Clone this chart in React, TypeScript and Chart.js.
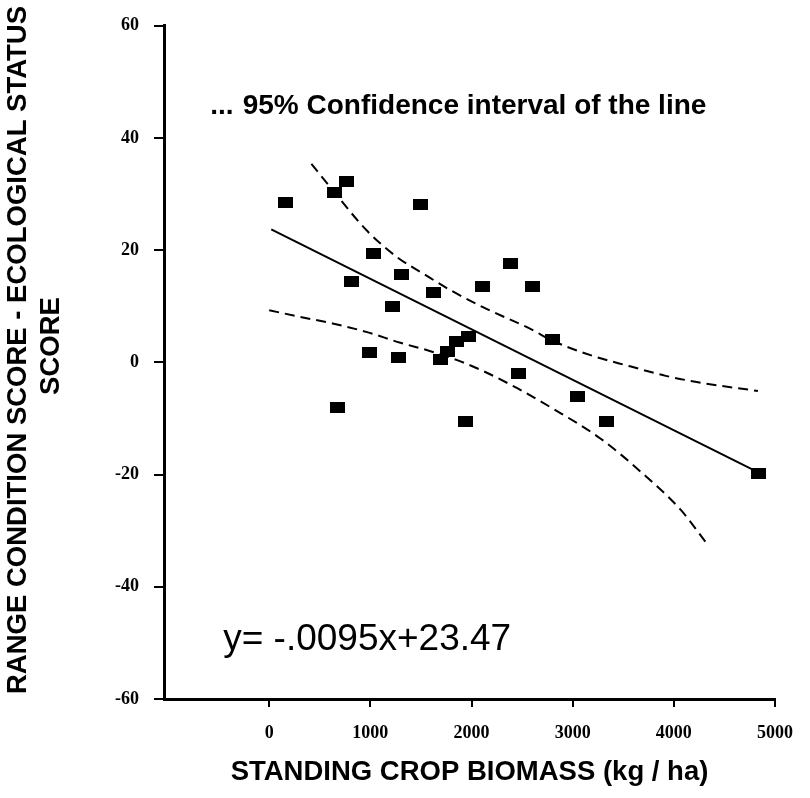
import React, { useEffect, useRef } from 'react';
import { Chart, registerables } from 'chart.js';

Chart.register(...registerables);

// ---- data ----
const biomass = [158, 644, 769, 1495, 1027, 1304, 809, 1627, 1215, 2386, 2106, 2601, 1967, 1851, 1759, 1693, 993, 1280, 680, 1941, 2468, 2799, 3052, 3334, 4839];
const scores = [28.5, 30.3, 32.3, 28.1, 19.5, 15.7, 14.4, 12.5, 10.0, 17.6, 13.6, 13.6, 4.7, 3.7, 2.0, 0.5, 1.8, 0.8, -8.0, -10.5, -1.9, 4.1, -6.0, -10.6, -19.8];

const fitX = [20, 4800];
const fitY = [23.7, -19.3];

const upperX = [417, 646, 965, 1269, 1525, 1799, 2118, 2612, 2773, 3191, 3567, 3920, 4226, 4831];
const upperY = [35.4, 30.3, 23.5, 18.7, 15.8, 12.8, 9.8, 5.7, 4.1, 1.2, -0.7, -2.4, -3.5, -5.1];

const lowerX = [0, 307, 637, 967, 1297, 1594, 1858, 2122, 2452, 2782, 3277, 3673, 4069, 4334];
const lowerY = [9.3, 8.1, 6.9, 5.4, 3.5, 2.0, 0.4, -1.6, -4.6, -8.0, -13.6, -19.5, -26.3, -32.5];

const xTicks = [0, 1000, 2000, 3000, 4000, 5000];
const yTicks = [-60, -40, -20, 0, 20, 40, 60];

const legendDots = '...';
const legendText = '95% Confidence interval of the line';
const equationText = 'y= -.0095x+23.47';
const xTitle = 'STANDING CROP BIOMASS (kg / ha)';
const yTitleLines = ['RANGE CONDITION SCORE - ECOLOGICAL STATUS', 'SCORE'];

// ---- annotation anchor positions ----
const dotsAt = { x: -584, y: 44.3 }; // data units
const legendAt = { x: -262, y: 44.3 }; // data units
const equationAt = { x: -455, y: -51.3 }; // data units
const yTitlePos = [
  { cx: 18, cy: 350 },
  { cx: 51, cy: 346 },
]; // canvas pixels

const SANS = '"Liberation Sans", Arial, Helvetica, sans-serif';
const SERIF = '"Liberation Serif", "Times New Roman", serif';

const pts = (xs: number[], ys: number[]) => xs.map((x, i) => ({ x, y: ys[i] }));

const annotationPlugin = {
  id: 'annotations',
  afterDatasetsDraw(chart: any) {
    const { ctx, scales } = chart;
    const xs = scales.x;
    const ys = scales.y;
    ctx.save();
    ctx.fillStyle = '#000';
    ctx.textAlign = 'left';
    ctx.textBaseline = 'alphabetic';
    ctx.font = `bold 28px ${SANS}`;
    ctx.fillText(legendDots, xs.getPixelForValue(dotsAt.x), ys.getPixelForValue(dotsAt.y));
    ctx.fillText(legendText, xs.getPixelForValue(legendAt.x), ys.getPixelForValue(legendAt.y));
    ctx.font = `37px ${SANS}`;
    ctx.fillText(equationText, xs.getPixelForValue(equationAt.x), ys.getPixelForValue(equationAt.y));

    // rotated y-axis title (two lines)
    ctx.font = `bold 27.5px ${SANS}`;
    ctx.textAlign = 'center';
    ctx.textBaseline = 'middle';
    yTitleLines.forEach((line, i) => {
      ctx.save();
      ctx.translate(yTitlePos[i].cx, yTitlePos[i].cy);
      ctx.rotate(-Math.PI / 2);
      ctx.fillText(line, 0, 0);
      ctx.restore();
    });
    ctx.restore();
  },
};

export default function App() {
  const ref = useRef<HTMLCanvasElement | null>(null);

  useEffect(() => {
    if (!ref.current) return;
    const marker = document.createElement('canvas');
    marker.width = 15;
    marker.height = 11;
    const mctx = marker.getContext('2d');
    if (mctx) {
      mctx.fillStyle = '#000';
      mctx.fillRect(0, 0, 15, 11);
    }

    const tickFont = { family: SERIF, weight: 'bold' as const, size: 18 };
    const titleFont = { family: SANS, weight: 'bold' as const, size: 27.5, lineHeight: 1.2 };

    const chart = new Chart(ref.current, {
      type: 'scatter',
      data: {
        datasets: [
          {
            label: 'Regression',
            type: 'line',
            data: pts(fitX, fitY),
            borderColor: '#000',
            borderWidth: 2,
            pointRadius: 0,
            fill: false,
          } as any,
          {
            label: 'Upper 95% CI',
            type: 'line',
            data: pts(upperX, upperY),
            borderColor: '#000',
            borderWidth: 2,
            borderDash: [10, 6],
            pointRadius: 0,
            tension: 0.4,
            cubicInterpolationMode: 'monotone',
            fill: false,
          } as any,
          {
            label: 'Lower 95% CI',
            type: 'line',
            data: pts(lowerX, lowerY),
            borderColor: '#000',
            borderWidth: 2,
            borderDash: [10, 6],
            pointRadius: 0,
            tension: 0.4,
            cubicInterpolationMode: 'monotone',
            fill: false,
          } as any,
          {
            label: 'Sites',
            data: pts(biomass, scores),
            pointStyle: marker,
            pointRadius: 7,
            backgroundColor: '#000',
            borderColor: '#000',
          } as any,
        ],
      },
      options: {
        animation: false,
        responsive: true,
        maintainAspectRatio: false,
        layout: { padding: { top: 25, right: 35, left: 0, bottom: 0 } },
        plugins: {
          legend: { display: false },
          tooltip: { enabled: false },
        },
        scales: {
          x: {
            type: 'linear',
            min: -1040,
            max: 5000,
            afterBuildTicks: (s: any) => {
              s.ticks = xTicks.map((v) => ({ value: v }));
            },
            afterFit: (s: any) => {
              s.height = 99;
            },
            grid: {
              display: true,
              drawOnChartArea: false,
              drawTicks: true,
              tickLength: 8,
              color: '#000',
              lineWidth: 2,
            },
            border: { display: true, color: '#000', width: 3 },
            ticks: {
              color: '#000',
              font: tickFont,
              padding: 16,
              autoSkip: false,
              maxRotation: 0,
              callback: (v: any) => String(v),
            },
            title: {
              display: true,
              text: xTitle,
              color: '#000',
              font: titleFont,
              padding: { top: 0, bottom: 9 },
            },
          },
          y: {
            type: 'linear',
            min: -60,
            max: 60,
            afterBuildTicks: (s: any) => {
              s.ticks = yTicks.map((v) => ({ value: v }));
            },
            afterFit: (s: any) => {
              s.width = 164;
            },
            grid: {
              display: true,
              drawOnChartArea: false,
              drawTicks: true,
              tickLength: 10,
              color: '#000',
              lineWidth: 2,
            },
            border: { display: true, color: '#000', width: 3 },
            ticks: {
              color: '#000',
              font: tickFont,
              padding: 15,
              autoSkip: false,
              callback: (v: any) => String(v),
            },
            title: { display: false },
          },
        },
      } as any,
      plugins: [annotationPlugin],
    });

    return () => chart.destroy();
  }, []);

  return (
    <div style={{ position: 'fixed', left: 0, top: 0, width: 810, height: 798, background: '#fff' }}>
      <canvas ref={ref} />
    </div>
  );
}
